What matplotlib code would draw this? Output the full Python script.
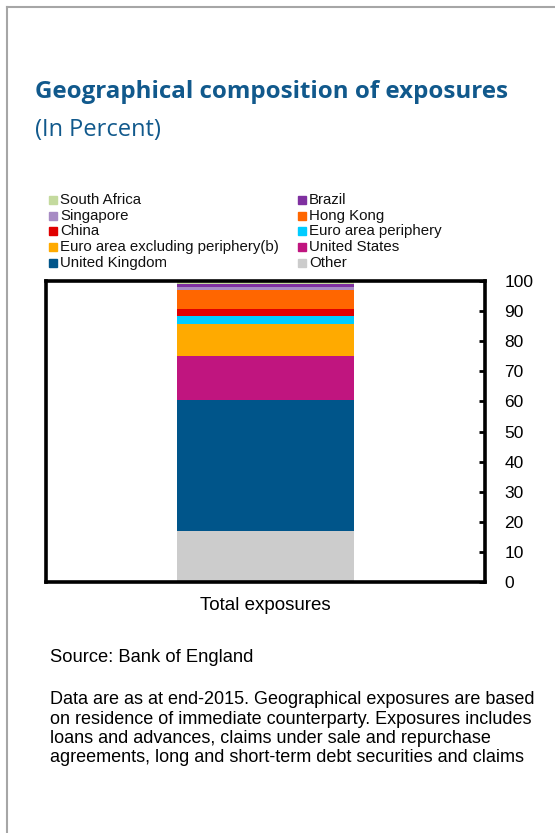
import matplotlib
matplotlib.use('Agg')
import matplotlib.pyplot as plt
from matplotlib.patches import Rectangle
from matplotlib.lines import Line2D

# stacked from bottom to top
regions = ['Other', 'United Kingdom', 'United States',
           'Euro area excluding periphery(b)', 'Euro area periphery',
           'China', 'Hong Kong', 'Singapore', 'Brazil', 'South Africa']
shares = [17.0, 43.5, 14.6, 10.6, 2.6, 2.3, 6.3, 1.0, 1.2, 0.9]
colors = ['#CCCCCC', '#00558A', '#C0157F', '#FFAA00', '#00CCFF',
          '#E00000', '#FF6600', '#A78BC4', '#7F30A0', '#C4DA9E']

# legend layout as in the original (row by row, two columns)
legend_order = ['South Africa', 'Brazil', 'Singapore', 'Hong Kong', 'China',
                'Euro area periphery', 'Euro area excluding periphery(b)',
                'United States', 'United Kingdom', 'Other']

category = 'Total exposures'
yticks = list(range(0, 101, 10))

W, H = 555, 833
fig = plt.figure(figsize=(W / 100, H / 100), dpi=100)


def fx(px):
    return px / W


def fy(py):
    return 1 - py / H


# outer frame (left and top only)
fig.add_artist(Line2D([fx(7), fx(7)], [fy(7), 0], color='#A6A6A6', lw=1.5))
fig.add_artist(Line2D([fx(7), 1], [fy(7), fy(7)], color='#A6A6A6', lw=1.5))

fig.text(fx(35), fy(92), 'Geographical composition of exposures',
         fontsize=17.4, fontweight='bold', color='#11598C', family='Open Sans',
         va='center', ha='left')
fig.text(fx(35), fy(130), '(In Percent)', fontsize=17, color='#11598C',
         family='Open Sans', va='center', ha='left')

ax = fig.add_axes([fx(46), fy(582), fx(485) - fx(46), fy(281) - fy(582)])

bottom = 0
for name, val, col in zip(regions, shares, colors):
    ax.bar([0], [val], bottom=bottom, width=0.403, color=col, label=name)
    bottom += val

ax.set_xlim(-0.5, 0.5)
ax.set_ylim(0, 100)
ax.set_xticks([0])
ax.set_xticklabels([category], family='Liberation Sans', fontsize=13.5)
ax.tick_params(axis='x', length=0, pad=11)
ax.yaxis.tick_right()
ax.set_yticks(yticks)
ax.set_yticklabels([str(t) for t in yticks], family='Liberation Sans', fontsize=12.5)
ax.tick_params(axis='y', direction='in', length=4, width=2, pad=14)
for s in ax.spines.values():
    s.set_linewidth(2.6)
    s.set_color('black')

# legend drawn row by row
col_x = [49, 298]
row_y = [200, 216, 231, 247, 263]
color_of = dict(zip(regions, colors))
for i, name in enumerate(legend_order):
    x = col_x[i % 2]
    y = row_y[i // 2]
    fig.add_artist(Rectangle((fx(x), fy(y + 4)), fx(8), 8 / H,
                             color=color_of[name], transform=fig.transFigure))
    fig.text(fx(x + 11), fy(y), name, fontsize=10.8, family='Liberation Sans',
             va='center', ha='left', color='#111111')

fig.text(fx(50), fy(658), 'Source: Bank of England', fontsize=13.2,
         family='Liberation Sans', va='center', ha='left')

note = ['Data are as at end-2015. Geographical exposures are based',
        'on residence of immediate counterparty. Exposures includes',
        'loans and advances, claims under sale and repurchase',
        'agreements, long and short-term debt securities and claims']
for i, line in enumerate(note):
    fig.text(fx(50), fy(700 + i * 19.3), line, fontsize=13,
             family='Liberation Sans', va='center', ha='left')

fig.savefig('out.png', dpi=100)
